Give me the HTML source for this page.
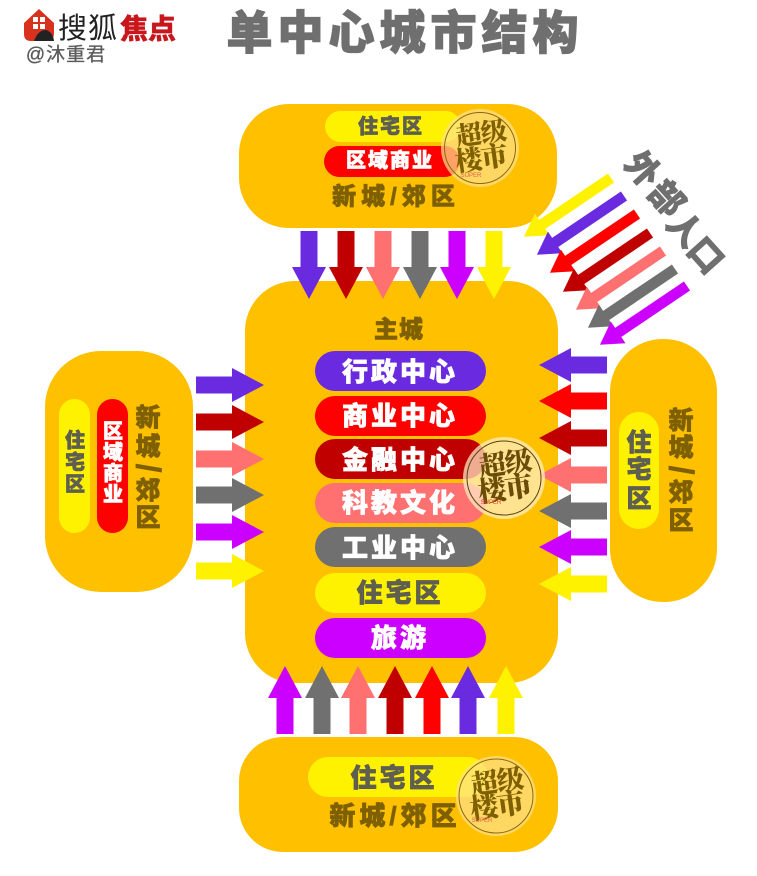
<!DOCTYPE html>
<html><head><meta charset="utf-8"><style>
html,body{margin:0;padding:0;background:#fff}
svg{display:block}
text{font-family:"Liberation Sans","Noto Sans CJK SC",sans-serif;font-weight:900;text-anchor:middle;dominant-baseline:central}
.w{fill:#fff;stroke:#fff;stroke-width:.7}
.g{fill:#5f5f50;stroke:#5f5f50;stroke-width:.7}
.b{fill:#7f6000;stroke:#7f6000;stroke-width:.7}
.h{fill:#6f6f6f;stroke:#6f6f6f;stroke-width:.7}
.c{font-family:"Liberation Serif","Noto Serif CJK SC",serif}
</style></head><body>
<svg width="757" height="876" viewBox="0 0 757 876" xmlns="http://www.w3.org/2000/svg">
<rect width="757" height="876" fill="#fff"/>
<!-- logo -->
<path d="M39 9 L54 23 L54 33 Q54 41 46 41 L31 41 Q24 41 24 34 L24 23 Z" fill="#d8321f"/>
<rect x="33" y="17" width="5" height="5" fill="#fff"/><rect x="40" y="17" width="5" height="5" fill="#fff"/>
<rect x="33" y="24" width="5" height="5" fill="#fff"/><rect x="40" y="24" width="5" height="5" fill="#fff"/>
<path d="M34 41 Q38 30 46 30 Q53 32 54 41 Z" fill="#222"/>
<text x="88" y="29" font-size="29" fill="#222" style="font-weight:400" letter-spacing="1">搜狐</text>
<text x="148" y="29" font-size="28" fill="#c8161d" stroke="#c8161d" stroke-width=".3">焦点</text>
<text x="66" y="55" font-size="19" fill="#5a5a5a" stroke="#5a5a5a" stroke-width=".3" style="font-weight:400" letter-spacing="1">@沐重君</text>
<!-- title -->
<text x="405" y="33" font-size="46" class="h" style="stroke-width:1.2" letter-spacing="5">单中心城市结构</text>

<!-- blocks -->
<rect x="239" y="104" width="318" height="124" rx="50" fill="#ffc000"/>
<rect x="245" y="281" width="313" height="402" rx="50" fill="#ffc000"/>
<rect x="45" y="351" width="148" height="241" rx="56" fill="#ffc000"/>
<rect x="610" y="339" width="107" height="263" rx="53" fill="#ffc000"/>
<rect x="239" y="737" width="319" height="115" rx="44" fill="#ffc000"/>

<!-- top block -->
<rect x="325" y="111" width="136" height="31" rx="15.5" fill="#fff200"/>
<rect x="324" y="146" width="136" height="31" rx="15.5" fill="#ff0000"/>
<text x="391" y="127" font-size="20" class="g" letter-spacing="2">住宅区</text>
<text x="390" y="161" font-size="20" class="w" letter-spacing="2">区域商业</text>
<text x="396" y="197" font-size="24" class="b" letter-spacing="5">新城/郊区</text>

<!-- top arrows -->
<g>
<polygon points="300.500,231 317.500,231 317.500,267 326,267 309,299 292,267 300.500,267" fill="#6a2be0"/>
<polygon points="337.500,231 354.500,231 354.500,267 363,267 346,299 329,267 337.500,267" fill="#c00000"/>
<polygon points="374.500,231 391.500,231 391.500,267 400,267 383,299 366,267 374.500,267" fill="#ff7070"/>
<polygon points="411.500,231 428.500,231 428.500,267 437,267 420,299 403,267 411.500,267" fill="#707070"/>
<polygon points="448.500,231 465.500,231 465.500,267 474,267 457,299 440,267 448.500,267" fill="#cc00ff"/>
<polygon points="485.500,231 502.500,231 502.500,267 511,267 494,299 477,267 485.500,267" fill="#fff200"/>
</g>

<!-- diagonal arrows -->
<g>
<polygon transform="translate(611 178) rotate(146)" points="0,-5.500 83,-5.500 83,-13 105,0 83,13 83,5.500 0,5.500" fill="#fff200"/>
<polygon transform="translate(624 196) rotate(146)" points="0,-5.500 83,-5.500 83,-13 105,0 83,13 83,5.500 0,5.500" fill="#6a2be0"/>
<polygon transform="translate(637 214) rotate(146)" points="0,-5.500 83,-5.500 83,-13 105,0 83,13 83,5.500 0,5.500" fill="#ff0000"/>
<polygon transform="translate(650 233) rotate(146)" points="0,-5.500 83,-5.500 83,-13 105,0 83,13 83,5.500 0,5.500" fill="#c00000"/>
<polygon transform="translate(663 251) rotate(146)" points="0,-5.500 83,-5.500 83,-13 105,0 83,13 83,5.500 0,5.500" fill="#ff7070"/>
<polygon transform="translate(675 269) rotate(146)" points="0,-5.500 83,-5.500 83,-13 105,0 83,13 83,5.500 0,5.500" fill="#707070"/>
<polygon transform="translate(687 286) rotate(146)" points="0,-5.500 83,-5.500 83,-13 105,0 83,13 83,5.500 0,5.500" fill="#cc00ff"/>
</g>
<g font-size="34">
<text transform="translate(642 170) rotate(48)" class="h">外</text>
<text transform="translate(666 199) rotate(48)" class="h">部</text>
<text transform="translate(684 230) rotate(48)" class="h">人</text>
<text transform="translate(705 256) rotate(48)" class="h">口</text>
</g>

<!-- main pills -->
<text x="399" y="330" font-size="24" class="b" letter-spacing="1">主城</text>
<rect x="315" y="351" width="171" height="40" rx="20" fill="#6a2be0"/>
<rect x="315" y="396" width="171" height="40" rx="20" fill="#ff0000"/>
<rect x="315" y="439" width="171" height="40" rx="20" fill="#c00000"/>
<rect x="315" y="483" width="171" height="40" rx="20" fill="#ff7070"/>
<rect x="315" y="527" width="171" height="40" rx="20" fill="#707070"/>
<rect x="315" y="573" width="171" height="40" rx="20" fill="#fff200"/>
<rect x="315" y="618" width="171" height="40" rx="20" fill="#cc00ff"/>
<g font-size="26" letter-spacing="3">
<text x="400" y="372" class="w">行政中心</text>
<text x="400" y="416" class="w">商业中心</text>
<text x="400" y="460" class="w">金融中心</text>
<text x="400" y="503" class="w">科教文化</text>
<text x="400" y="548" class="w">工业中心</text>
<text x="400" y="593" class="g">住宅区</text>
<text x="400" y="638" class="w">旅游</text>
</g>

<!-- left -->
<rect x="59" y="399" width="31" height="134" rx="15.500" fill="#fff200"/>
<rect x="97" y="399" width="31" height="134" rx="15.500" fill="#ff0000"/>
<g font-size="20">
<text x="75" y="441" class="g">住</text><text x="75" y="463" class="g">宅</text><text x="75" y="485" class="g">区</text>
<text x="113" y="432" class="w">区</text><text x="113" y="453" class="w">域</text><text x="113" y="474" class="w">商</text><text x="113" y="495" class="w">业</text>
</g>
<g font-size="25">
<text x="148" y="418" class="b">新</text><text x="148" y="447" class="b">城</text>
<text transform="translate(148 468) rotate(90) scale(1 1.1)" font-size="31" class="b">/</text>
<text x="148" y="491" class="b">郊</text><text x="148" y="518" class="b">区</text>
</g>
<g>
<polygon points="196,376.500 232,376.500 232,368 264,385 232,402 232,393.500 196,393.500" fill="#6a2be0"/>
<polygon points="196,413.500 232,413.500 232,405 264,422 232,439 232,430.500 196,430.500" fill="#c00000"/>
<polygon points="196,450.500 232,450.500 232,442 264,459 232,476 232,467.500 196,467.500" fill="#ff7070"/>
<polygon points="196,486.500 232,486.500 232,478 264,495 232,512 232,503.500 196,503.500" fill="#707070"/>
<polygon points="196,523.500 232,523.500 232,515 264,532 232,549 232,540.500 196,540.500" fill="#cc00ff"/>
<polygon points="196,562.500 232,562.500 232,554 264,571 232,588 232,579.500 196,579.500" fill="#fff200"/>
</g>

<!-- right -->
<rect x="619" y="412" width="40" height="117" rx="20" fill="#fff200"/>
<g font-size="25">
<text x="639" y="443" class="g">住</text><text x="639" y="470" class="g">宅</text><text x="639" y="499" class="g">区</text>
<text x="681" y="421" class="b">新</text><text x="681" y="448" class="b">城</text>
<text transform="translate(681 470) rotate(90) scale(1 1.1)" font-size="31" class="b">/</text>
<text x="681" y="493" class="b">郊</text><text x="681" y="521" class="b">区</text>
</g>
<g>
<polygon points="607,356.500 571,356.500 571,348 539,365 571,382 571,373.500 607,373.500" fill="#6a2be0"/>
<polygon points="607,392.500 571,392.500 571,384 539,401 571,418 571,409.500 607,409.500" fill="#ff0000"/>
<polygon points="607,429.500 571,429.500 571,421 539,438 571,455 571,446.500 607,446.500" fill="#c00000"/>
<polygon points="607,466.500 571,466.500 571,458 539,475 571,492 571,483.500 607,483.500" fill="#ff7070"/>
<polygon points="607,502.500 571,502.500 571,494 539,511 571,528 571,519.500 607,519.500" fill="#707070"/>
<polygon points="607,538.500 571,538.500 571,530 539,547 571,564 571,555.500 607,555.500" fill="#cc00ff"/>
<polygon points="607,575.500 571,575.500 571,567 539,584 571,601 571,592.500 607,592.500" fill="#fff200"/>
</g>

<!-- bottom arrows -->
<g>
<polygon points="276.500,734 293.500,734 293.500,698 302,698 285,666 268,698 276.500,698" fill="#cc00ff"/>
<polygon points="313.500,734 330.500,734 330.500,698 339,698 322,666 305,698 313.500,698" fill="#707070"/>
<polygon points="349.500,734 366.500,734 366.500,698 375,698 358,666 341,698 349.500,698" fill="#ff7070"/>
<polygon points="386.500,734 403.500,734 403.500,698 412,698 395,666 378,698 386.500,698" fill="#c00000"/>
<polygon points="423.500,734 440.500,734 440.500,698 449,698 432,666 415,698 423.500,698" fill="#ff0000"/>
<polygon points="459.500,734 476.500,734 476.500,698 485,698 468,666 451,698 459.500,698" fill="#6a2be0"/>
<polygon points="497.500,734 514.500,734 514.500,698 523,698 506,666 489,698 497.500,698" fill="#fff200"/>
</g>
<rect x="308" y="757" width="180" height="40" rx="20" fill="#fff200"/>
<text x="394" y="778" font-size="26" class="g" letter-spacing="3">住宅区</text>
<text x="395" y="816" font-size="26" class="b" letter-spacing="4">新城/郊区</text>

<!-- badges -->
<g>
<circle cx="480" cy="148" r="39" fill="#ffe08a" fill-opacity=".72"/>
<circle cx="480" cy="148" r="35.500" fill="none" stroke="#8a6a10" stroke-width="1"/>
<text transform="translate(481 134) rotate(-8)" font-size="26" class="c" fill="#7f6000" letter-spacing="-1">超级</text>
<text transform="translate(481 159) rotate(-8)" font-size="27" class="c" fill="#7f6000" letter-spacing="-1">楼市</text>
<text x="471" y="176" font-size="6" fill="#d9604a" style="font-weight:400">SUPER</text>
</g>
<g>
<circle cx="504" cy="478" r="41" fill="#fff0c8" fill-opacity=".72"/>
<circle cx="504" cy="478" r="37" fill="none" stroke="#5a4212" stroke-width="1"/>
<text transform="translate(505 464) rotate(-8)" font-size="27" class="c" fill="#6b4c08" letter-spacing="-1">超级</text>
<text transform="translate(505 490) rotate(-8)" font-size="28" class="c" fill="#6b4c08" letter-spacing="-1">楼市</text>
<text x="491" y="503" font-size="6" fill="#e0402a" style="font-weight:400">SUPER</text>
</g>
<g>
<circle cx="496" cy="796" r="40" fill="#ffe08a" fill-opacity=".72"/>
<circle cx="496" cy="796" r="37" fill="none" stroke="#8a6a10" stroke-width="1"/>
<text transform="translate(497 782) rotate(-8)" font-size="27" class="c" fill="#7f6000" letter-spacing="-1">超级</text>
<text transform="translate(497 807) rotate(-8)" font-size="28" class="c" fill="#7f6000" letter-spacing="-1">楼市</text>
<text x="482" y="821" font-size="6" fill="#e0604a" style="font-weight:400">SUPER</text>
</g>
</svg>
</body></html>
